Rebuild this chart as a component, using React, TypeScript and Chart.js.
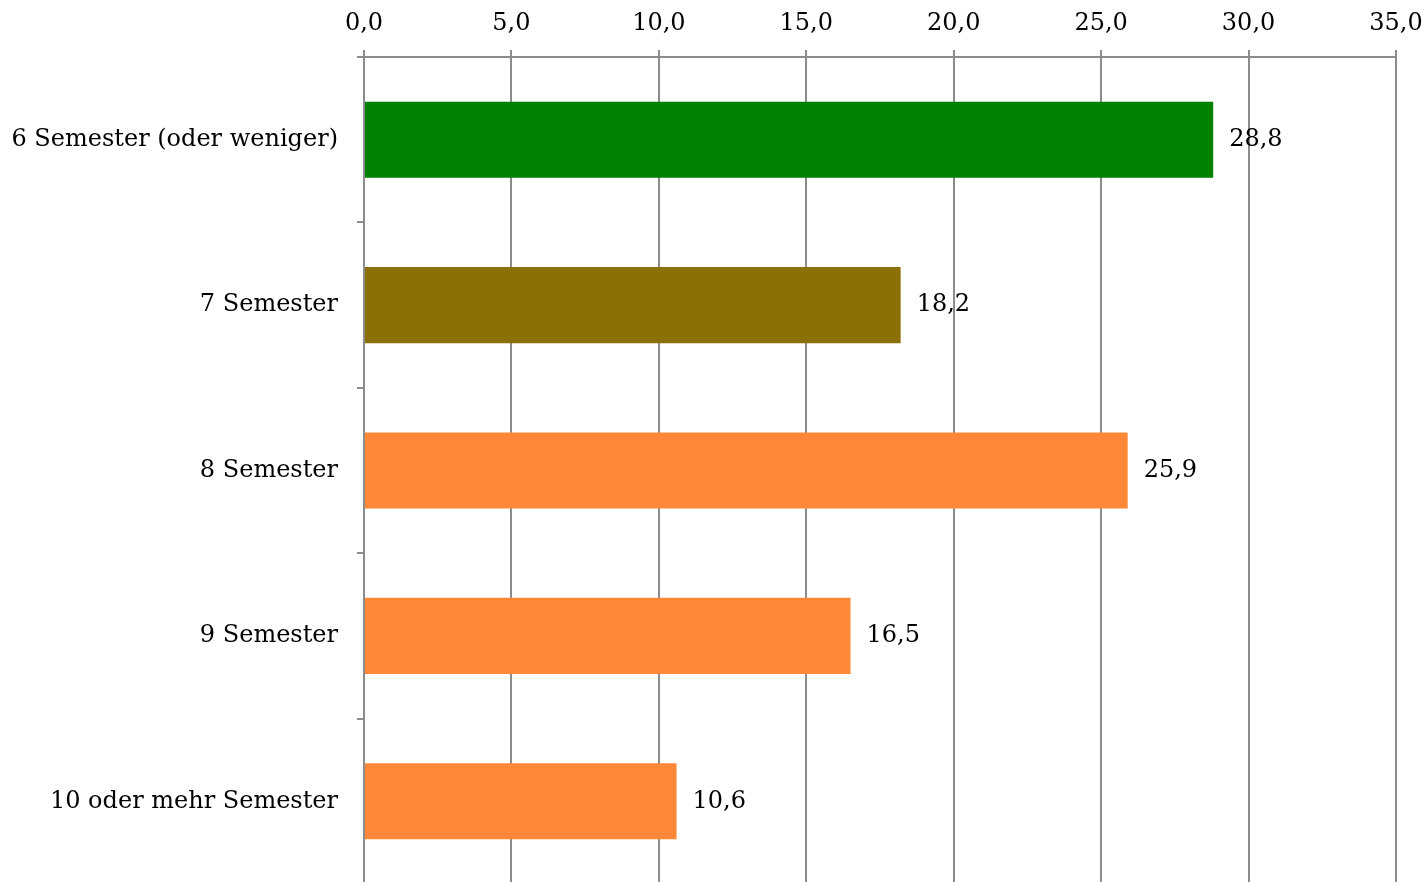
import { useEffect, useRef } from "react";
import { Chart, registerables } from "chart.js";

Chart.register(...registerables);

// Share of graduates by semesters of study (percent)
const categories = [
  "6 Semester (oder weniger)",
  "7 Semester",
  "8 Semester",
  "9 Semester",
  "10 oder mehr Semester",
];
const shares = [28.8, 18.2, 25.9, 16.5, 10.6];
const barColors = ["#008000", "#8B7008", "#FF8838", "#FF8838", "#FF8838"];
const axisMin = 0;
const axisMax = 35;
const axisStep = 5;

const FONT_FAMILY = '"DejaVu Serif", serif';
const FONT_SIZE = 24;
const GRID_COLOR = "#8c8c8c";

const fmt = (v: number) => v.toFixed(1).replace(".", ",");

// Writes each bar's value just past its end
const valueLabels = {
  id: "valueLabels",
  afterDatasetsDraw(chart: any) {
    const ctx = chart.ctx;
    const meta = chart.getDatasetMeta(0);
    ctx.save();
    ctx.font = `${FONT_SIZE}px ${FONT_FAMILY}`;
    ctx.fillStyle = "#000";
    ctx.textAlign = "left";
    ctx.textBaseline = "middle";
    meta.data.forEach((bar: any, i: number) => {
      ctx.fillText(fmt(shares[i]), bar.x + 16, bar.y);
    });
    ctx.restore();
  },
};

export default function App() {
  const canvasRef = useRef<HTMLCanvasElement | null>(null);

  useEffect(() => {
    if (!canvasRef.current) return;
    const chart = new Chart(canvasRef.current, {
      type: "bar",
      data: {
        labels: categories,
        datasets: [
          {
            data: shares,
            backgroundColor: barColors,
            borderWidth: 0,
            barPercentage: 0.46,
            categoryPercentage: 1,
          },
        ],
      },
      options: {
        indexAxis: "y",
        animation: false,
        responsive: true,
        maintainAspectRatio: false,
        layout: { padding: { top: 0, left: 0, right: 31, bottom: 0 } },
        plugins: {
          legend: { display: false },
          tooltip: { enabled: false },
        },
        scales: {
          x: {
            position: "top",
            min: axisMin,
            max: axisMax,
            ticks: {
              stepSize: axisStep,
              callback: (v: any) => fmt(Number(v)),
              color: "#000",
              padding: 12,
              font: { family: FONT_FAMILY, size: FONT_SIZE },
            },
            grid: { color: GRID_COLOR, lineWidth: 2, tickLength: 7 },
            border: { display: true, color: GRID_COLOR, width: 2 },
            afterFit: (scale: any) => {
              scale.height = 57;
              scale.paddingLeft = 0;
              scale.paddingRight = 0;
            },
          },
          y: {
            ticks: {
              color: "#000",
              padding: 19,
              font: { family: FONT_FAMILY, size: FONT_SIZE },
            },
            grid: {
              offset: true,
              drawOnChartArea: false,
              color: GRID_COLOR,
              lineWidth: 2,
              tickLength: 7,
            },
            border: { display: true, color: GRID_COLOR, width: 2 },
            afterFit: (scale: any) => {
              scale.width = 364;
              scale.paddingTop = 0;
              scale.paddingBottom = 0;
            },
          },
        },
      },
      plugins: [valueLabels],
    });
    return () => chart.destroy();
  }, []);

  return (
    <div
      style={{
        position: "fixed",
        left: 0,
        top: 0,
        width: 1427,
        height: 884,
        background: "#fff",
      }}
    >
      <canvas ref={canvasRef} />
    </div>
  );
}
